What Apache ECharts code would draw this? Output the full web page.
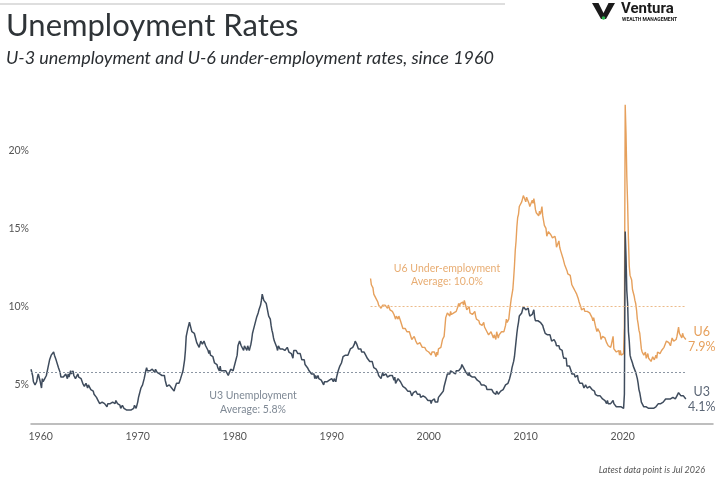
<!DOCTYPE html>
<html>
<head>
<meta charset="utf-8">
<script src="https://cdn.jsdelivr.net/npm/echarts@6/dist/echarts.min.js"></script>
<style>
  html, body { margin: 0; padding: 0; background: #fff; }
  #chart { width: 726px; height: 480px; }
</style>
</head>
<body>
<div id="chart"></div>
<script>
// monthly rates (U3 from Jan 1959, U6 from Jan 1994)
var u3Start = 1959;
var u3Rates = [
  6.0,5.9,5.6,5.2,5.1,5.0,5.1,5.2,5.5,5.7,5.8,5.3,
  5.2,4.8,5.4,5.2,5.1,5.4,5.5,5.6,5.5,6.1,6.1,6.6,
  6.6,6.9,6.9,7.0,7.1,6.9,7.0,6.6,6.7,6.5,6.1,6.0,
  5.8,5.5,5.6,5.6,5.5,5.5,5.4,5.7,5.6,5.4,5.7,5.5,
  5.7,5.9,5.7,5.7,5.9,5.6,5.6,5.4,5.5,5.5,5.7,5.5,
  5.6,5.4,5.4,5.3,5.1,5.2,4.9,5.0,5.1,5.1,4.8,5.0,
  4.9,5.1,4.7,4.8,4.6,4.6,4.4,4.4,4.3,4.2,4.1,4.0,
  4.0,3.8,3.8,3.8,3.9,3.8,3.8,3.8,3.7,3.7,3.6,3.8,
  3.9,3.8,3.8,3.8,3.8,3.9,3.8,3.8,3.8,4.0,3.9,3.8,
  3.7,3.8,3.7,3.5,3.5,3.7,3.7,3.5,3.4,3.4,3.4,3.4,
  3.4,3.4,3.4,3.4,3.4,3.5,3.5,3.5,3.7,3.7,3.5,3.5,
  3.9,4.2,4.4,4.6,4.8,4.9,5.0,5.1,5.4,5.5,5.9,6.1,
  5.9,5.9,6.0,5.9,5.9,5.9,6.0,6.1,6.0,5.8,6.0,6.0,
  5.8,5.7,5.8,5.7,5.7,5.7,5.6,5.6,5.5,5.6,5.3,5.2,
  4.9,5.0,4.9,5.0,4.9,4.9,4.8,4.8,4.8,4.6,4.8,4.9,
  5.1,5.2,5.1,5.1,5.1,5.4,5.5,5.5,5.9,6.0,6.6,7.2,
  8.1,8.1,8.6,8.8,9.0,8.8,8.6,8.4,8.4,8.4,8.3,8.2,
  7.9,7.7,7.6,7.7,7.4,7.6,7.8,7.8,7.6,7.7,7.8,7.8,
  7.5,7.6,7.4,7.2,7.0,7.2,6.9,7.0,6.8,6.8,6.8,6.4,
  6.4,6.3,6.3,6.1,6.0,5.9,6.2,5.9,6.0,5.8,5.9,6.0,
  5.9,5.9,5.8,5.8,5.6,5.7,5.7,6.0,5.9,6.0,5.9,6.0,
  6.3,6.3,6.3,6.9,7.5,7.6,7.8,7.7,7.5,7.5,7.5,7.2,
  7.5,7.4,7.4,7.2,7.5,7.5,7.2,7.4,7.6,7.9,8.3,8.5,
  8.6,8.9,9.0,9.3,9.4,9.6,9.8,9.8,10.1,10.4,10.8,10.8,
  10.4,10.4,10.3,10.2,10.1,10.1,9.4,9.5,9.2,8.8,8.5,8.3,
  8.0,7.8,7.8,7.7,7.4,7.2,7.5,7.5,7.3,7.4,7.2,7.3,
  7.3,7.2,7.2,7.3,7.2,7.4,7.4,7.1,7.1,7.1,7.0,7.0,
  6.7,7.2,7.2,7.1,7.2,7.2,7.0,6.9,7.0,7.0,6.9,6.6,
  6.6,6.6,6.6,6.3,6.3,6.2,6.1,6.0,5.9,6.0,5.8,5.7,
  5.7,5.7,5.7,5.4,5.6,5.4,5.4,5.6,5.4,5.4,5.3,5.3,
  5.4,5.2,5.0,5.2,5.2,5.3,5.2,5.2,5.3,5.3,5.4,5.4,
  5.4,5.3,5.2,5.4,5.4,5.2,5.5,5.7,5.9,5.9,6.2,6.3,
  6.4,6.6,6.8,6.7,6.9,6.9,6.8,6.9,6.9,7.0,7.0,7.3,
  7.3,7.4,7.4,7.4,7.6,7.8,7.7,7.6,7.6,7.3,7.4,7.4,
  7.3,7.1,7.0,7.1,7.1,7.0,6.9,6.8,6.7,6.8,6.6,6.5,
  6.6,6.6,6.5,6.4,6.1,6.1,6.1,6.0,5.9,5.8,5.6,5.5,
  5.6,5.4,5.4,5.8,5.6,5.6,5.7,5.7,5.6,5.5,5.6,5.6,
  5.6,5.5,5.5,5.6,5.6,5.3,5.5,5.1,5.2,5.2,5.4,5.4,
  5.3,5.2,5.2,5.1,4.9,5.0,4.9,4.8,4.9,4.7,4.6,4.7,
  4.6,4.6,4.7,4.3,4.4,4.5,4.5,4.5,4.6,4.5,4.4,4.4,
  4.3,4.4,4.2,4.3,4.2,4.3,4.3,4.2,4.2,4.1,4.1,4.0,
  4.0,4.1,4.0,3.8,4.0,4.0,4.0,4.1,3.9,3.9,3.9,3.9,
  4.2,4.2,4.3,4.4,4.3,4.5,4.6,4.9,5.0,5.3,5.5,5.7,
  5.7,5.7,5.7,5.9,5.8,5.8,5.8,5.7,5.7,5.7,5.9,6.0,
  5.8,5.9,5.9,6.0,6.1,6.3,6.2,6.1,6.1,6.0,5.8,5.7,
  5.7,5.6,5.8,5.6,5.6,5.6,5.5,5.4,5.4,5.5,5.4,5.4,
  5.3,5.4,5.2,5.2,5.1,5.0,5.0,4.9,5.0,5.0,5.0,4.9,
  4.7,4.8,4.7,4.7,4.6,4.6,4.7,4.7,4.5,4.4,4.5,4.4,
  4.6,4.5,4.4,4.5,4.4,4.6,4.7,4.6,4.7,4.7,4.7,5.0,
  5.0,4.9,5.1,5.0,5.4,5.6,5.8,6.1,6.1,6.5,6.8,7.3,
  7.8,8.3,8.7,9.0,9.4,9.5,9.5,9.6,9.8,10.0,9.9,9.9,
  9.8,9.8,9.9,9.9,9.6,9.4,9.4,9.5,9.5,9.4,9.8,9.3,
  9.1,9.0,9.0,9.1,9.0,9.1,9.0,9.0,9.0,8.8,8.6,8.5,
  8.3,8.3,8.2,8.2,8.2,8.2,8.2,8.1,7.8,7.8,7.7,7.9,
  8.0,7.7,7.5,7.6,7.5,7.5,7.3,7.2,7.2,7.2,6.9,6.7,
  6.6,6.7,6.7,6.2,6.3,6.1,6.2,6.1,5.9,5.7,5.8,5.6,
  5.7,5.5,5.4,5.4,5.6,5.3,5.2,5.1,5.0,5.0,5.1,5.0,
  4.8,4.9,5.0,5.1,4.8,4.9,4.8,4.9,5.0,4.9,4.7,4.7,
  4.7,4.6,4.4,4.4,4.4,4.3,4.3,4.4,4.3,4.2,4.2,4.1,
  4.0,4.1,4.0,4.0,3.8,4.0,3.8,3.8,3.7,3.8,3.8,3.9,
  4.0,3.8,3.8,3.7,3.6,3.6,3.7,3.6,3.5,3.6,3.6,3.6,
  3.5,3.5,4.4,14.8,13.2,11.0,10.2,8.4,7.8,6.9,6.7,6.7,
  6.4,6.2,6.1,6.1,5.8,5.9,5.4,5.1,4.7,4.5,4.2,3.9,
  4.0,3.8,3.6,3.7,3.6,3.6,3.5,3.6,3.5,3.6,3.6,3.5,
  3.4,3.6,3.5,3.4,3.6,3.6,3.5,3.7,3.8,3.9,3.7,3.8,
  3.7,3.9,3.9,3.9,4.0,4.1,4.2,4.2,4.1,4.1,4.2,4.1,
  4.0,4.1,4.2,4.2,4.2,4.1,4.2,4.3,4.4,4.5,4.4,4.4,
  4.3,4.3,4.2,4.3,4.2,4.2,4.1
];
var u6Start = 1994;
var u6Rates = [
  11.8,11.4,11.4,11.2,10.8,10.9,10.7,10.5,10.4,10.3,10.1,10.0,
  10.2,9.9,9.9,10.1,10.1,10.2,10.1,10.1,10.0,9.9,10.1,10.0,
  9.8,9.8,9.8,9.7,9.7,9.5,9.6,9.2,9.4,9.5,9.2,9.4,
  9.4,9.1,9.1,9.0,8.6,8.7,8.6,8.6,8.7,8.4,8.3,8.3,
  8.4,8.4,8.4,7.9,7.9,8.0,8.1,8.0,7.8,7.8,7.6,7.6,
  7.7,7.7,7.6,7.6,7.4,7.5,7.5,7.4,7.3,7.2,7.1,7.1,
  7.1,7.2,7.1,6.9,7.1,7.0,7.0,7.1,7.0,6.8,7.1,6.9,
  7.3,7.4,7.3,7.4,7.5,7.9,7.8,8.1,8.7,9.3,9.4,9.6,
  9.5,9.5,9.4,9.7,9.5,9.5,9.6,9.6,9.6,9.6,9.7,9.8,
  10.0,10.2,10.0,10.2,10.1,10.3,10.3,10.1,10.4,10.2,10.0,9.8,
  9.9,9.7,10.0,9.6,9.6,9.5,9.5,9.4,9.4,9.7,9.4,9.2,
  9.3,9.3,9.1,8.9,8.9,9.0,8.8,8.9,9.0,8.7,8.7,8.6,
  8.4,8.4,8.2,8.1,8.2,8.4,8.5,8.4,8.0,8.2,8.1,7.9,
  8.4,8.2,8.0,8.2,8.2,8.3,8.4,8.4,8.4,8.4,8.5,8.8,
  9.2,9.0,9.1,9.2,9.7,10.1,10.5,10.8,11.1,11.8,12.6,13.6,
  14.2,15.1,15.7,15.9,16.4,16.5,16.4,16.7,16.7,17.1,17.1,17.1,
  16.7,17.0,17.1,17.1,16.6,16.4,16.4,16.5,16.8,16.6,16.9,16.6,
  16.2,16.0,15.9,16.1,15.8,16.1,15.9,16.1,16.4,15.8,15.5,15.2,
  15.2,15.0,14.5,14.5,14.8,14.8,14.9,14.6,14.7,14.4,14.4,14.4,
  14.5,14.3,13.8,13.9,13.8,14.2,13.8,13.6,13.5,13.6,13.1,13.1,
  12.7,12.6,12.6,12.3,12.1,12.0,12.2,12.0,11.7,11.4,11.3,11.2,
  11.3,11.0,10.9,10.8,10.7,10.5,10.3,10.3,10.0,9.8,9.9,9.9,
  9.9,9.7,9.8,9.7,9.7,9.6,9.7,9.6,9.7,9.5,9.3,9.1,
  9.3,9.2,8.8,8.6,8.4,8.6,8.5,8.6,8.3,7.9,8.0,8.1,
  8.2,8.2,8.0,7.9,7.7,7.8,7.5,7.4,7.5,7.4,7.6,7.6,
  8.1,7.3,7.3,7.3,7.1,7.2,7.0,7.2,6.9,7.2,6.9,6.8,
  6.9,7.0,8.8,22.9,21.1,18.3,16.6,14.3,12.6,12.0,12.0,11.7,
  11.1,11.1,10.7,10.4,10.2,9.8,9.2,8.9,8.5,8.3,7.8,7.3,
  7.1,7.2,6.9,7.0,7.1,6.7,6.7,7.0,6.7,6.8,6.7,6.5,
  6.6,6.8,6.7,6.6,6.7,6.9,6.7,7.1,7.0,7.2,7.0,7.1,
  7.2,7.3,7.3,7.4,7.4,7.4,7.8,7.9,7.7,7.7,7.8,7.5,
  7.5,8.0,7.9,7.8,7.8,7.7,7.9,8.1,8.4,8.7,8.3,8.4,
  8.2,8.0,8.3,8.1,8.0,8.1,7.9
];
var u3Average = 5.8;
var u6Average = 10.0;
var yearLabels = [1960, 1970, 1980, 1990, 2000, 2010, 2020];
var rateLabels = [5, 10, 15, 20];

var u3Color = '#3f4c5d';
var u6Color = '#e6a05c';

function toPoints(start, rates) {
  return rates.map(function (v, i) { return [start + i / 12, v]; });
}
var u3Points = toPoints(u3Start, u3Rates);
var u6Points = toPoints(u6Start, u6Rates);
var lastX = u3Points[u3Points.length - 1][0];

var font = 'Lato, "Open Sans", sans-serif';

var option = {
  animation: false,
  textStyle: { fontFamily: font },
  grid: { left: 31, right: 13, top: 72, bottom: 56, containLabel: false },
  xAxis: {
    type: 'value',
    min: 1959,
    max: 2029.3,
    interval: 1,
    axisLine: { lineStyle: { color: '#a9a9a9', width: 1.5 } },
    axisTick: { show: false },
    splitLine: { show: false },
    axisLabel: {
      color: '#555', fontSize: 10.5, margin: 7, showMaxLabel: false, showMinLabel: false,
      formatter: function (v) {
        var y = Math.round(v);
        return (Math.abs(v - y) < 1e-6 && yearLabels.indexOf(y) >= 0) ? String(y) : '';
      }
    }
  },
  yAxis: {
    type: 'value',
    min: 2.5,
    max: 25,
    interval: 2.5,
    axisLine: { show: false },
    axisTick: { show: false },
    splitLine: { show: false },
    axisLabel: {
      color: '#555', fontSize: 10.5, margin: 2,
      formatter: function (v) {
        return rateLabels.indexOf(v) >= 0 ? v + '%' : '';
      }
    }
  },
  series: [
    {
      name: 'U6',
      type: 'line',
      data: u6Points,
      showSymbol: false,
      lineStyle: { color: u6Color, width: 1.4 },
      itemStyle: { color: u6Color },
      endLabel: {
        show: true, align: 'center', distance: 16, color: u6Color,
        fontSize: 12.5, lineHeight: 15,
        formatter: function (p) { return 'U6\n' + p.value[1].toFixed(1) + '%'; }
      },
      markLine: {
        silent: true, symbol: 'none', label: { show: false },
        lineStyle: { color: '#ecbb8a', type: [2, 2], width: 1 },
        data: [[{ coord: [u6Start, u6Average] }, { coord: [lastX, u6Average] }]]
      }
    },
    {
      name: 'U3',
      type: 'line',
      data: u3Points,
      showSymbol: false,
      lineStyle: { color: u3Color, width: 1.5 },
      itemStyle: { color: u3Color },
      endLabel: {
        show: true, align: 'center', distance: 16, color: '#5b6676',
        fontSize: 12.5, lineHeight: 15,
        formatter: function (p) { return 'U3\n' + p.value[1].toFixed(1) + '%'; }
      },
      markLine: {
        silent: true, symbol: 'none', label: { show: false },
        lineStyle: { color: '#8c96a3', type: [2, 2], width: 1 },
        data: [[{ coord: [u3Start, u3Average] }, { coord: [lastX, u3Average] }]]
      }
    }
  ],
  graphic: [
    { type: 'line', shape: { x1: 0, y1: 4, x2: 505, y2: 4 }, style: { stroke: '#bdbdbd', lineWidth: 1 } },
    { type: 'text', left: 6, top: 10,
      style: { text: 'Unemployment Rates', font: 'normal 31px ' + font, fill: '#2f3438' } },
    { type: 'text', left: 6, top: 49,
      style: { text: 'U-3 unemployment and U-6 under-employment rates, since 1960', font: 'italic 18px ' + font, fill: '#2a2e32' } },
    // logo
    { type: 'polygon', shape: { points: [[592, 3], [598.5, 3], [603.5, 13], [608.5, 3], [615, 3], [606, 19], [601, 19]] },
      style: { fill: '#1b1b1b' } },
    { type: 'circle', shape: { cx: 603.5, cy: 18, r: 1.8 }, style: { fill: '#2bb24c' } },
    { type: 'text', x: 621, y: 2,
      style: { text: 'Ventura', font: 'bold 15px Roboto, sans-serif', fill: '#1b1b1b' } },
    { type: 'text', x: 622, y: 17,
      style: { text: 'WEALTH MANAGEMENT', font: 'bold 5px Roboto, sans-serif', fill: '#1b1b1b' } },
    // average annotations
    { type: 'text', x: 253, y: 389,
      style: { text: 'U3 Unemployment\nAverage: ' + u3Average.toFixed(1) + '%', font: '10.5px ' + font,
        fill: '#7f8995', align: 'center', lineHeight: 13.5 } },
    { type: 'text', x: 447, y: 262,
      style: { text: 'U6 Under-employment\nAverage: ' + u6Average.toFixed(1) + '%', font: '10.5px ' + font,
        fill: '#e8ad73', align: 'center', lineHeight: 13 } },
    { type: 'text', x: 705, y: 466,
      style: { text: 'Latest data point is Jul 2026', font: 'italic 9px ' + font, fill: '#555', align: 'right' } }
  ]
};

var myChart = echarts.init(document.getElementById('chart'));
myChart.setOption(option);
</script>
</body>
</html>
